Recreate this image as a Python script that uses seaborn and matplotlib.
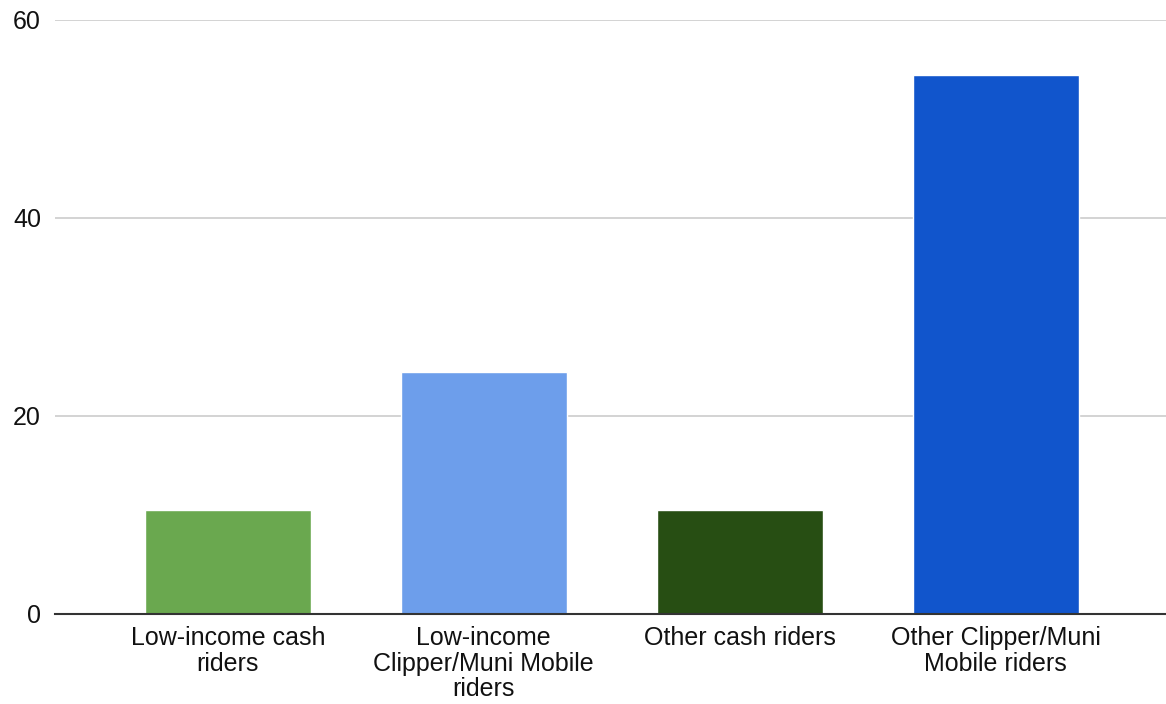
import numpy as np
import pandas as pd
import matplotlib
matplotlib.use("Agg")
import matplotlib.pyplot as plt
import seaborn as sns

# Data
categories = [
    "Low-income cash\nriders",
    "Low-income\nClipper/Muni Mobile\nriders",
    "Other cash riders",
    "Other Clipper/Muni\nMobile riders",
]
values = [10.5, 24.4, 10.5, 54.4]
colors = ["#6aa84f", "#6d9eeb", "#274e13", "#1155cc"]

df = pd.DataFrame({"group": categories, "value": values})

sns.set_theme(style="white")
plt.rcParams["font.family"] = ["Liberation Sans", "DejaVu Sans"]

fig = plt.figure(figsize=(11.66, 7.04), dpi=100)
ax = fig.add_axes([55 / 1166, 1 - 613.7 / 704, 1 - 55 / 1166, (613.7 - 19.7) / 704])

sns.barplot(data=df, x="group", y="value", hue="group", palette=colors,
            width=0.65, legend=False, ax=ax, saturation=1)

ax.set_ylim(0, 60)
ax.set_xlim(-0.675, 3.665)
ax.set_yticks([0, 20, 40, 60])
ax.yaxis.grid(True, color="#cccccc", linewidth=1.2)
ax.set_axisbelow(True)
for s in ["top", "right", "left"]:
    ax.spines[s].set_visible(False)
ax.spines["bottom"].set_color("#333333")
ax.spines["bottom"].set_linewidth(1.5)
ax.tick_params(axis="both", length=0, labelsize=18, colors="#111111")
ax.tick_params(axis="y", pad=10)
ax.tick_params(axis="x", pad=9)
ax.set_xlabel("")
ax.set_ylabel("")
for lbl in ax.get_xticklabels():
    lbl.set_linespacing(1.08)

fig.savefig("out.png", dpi=100)
